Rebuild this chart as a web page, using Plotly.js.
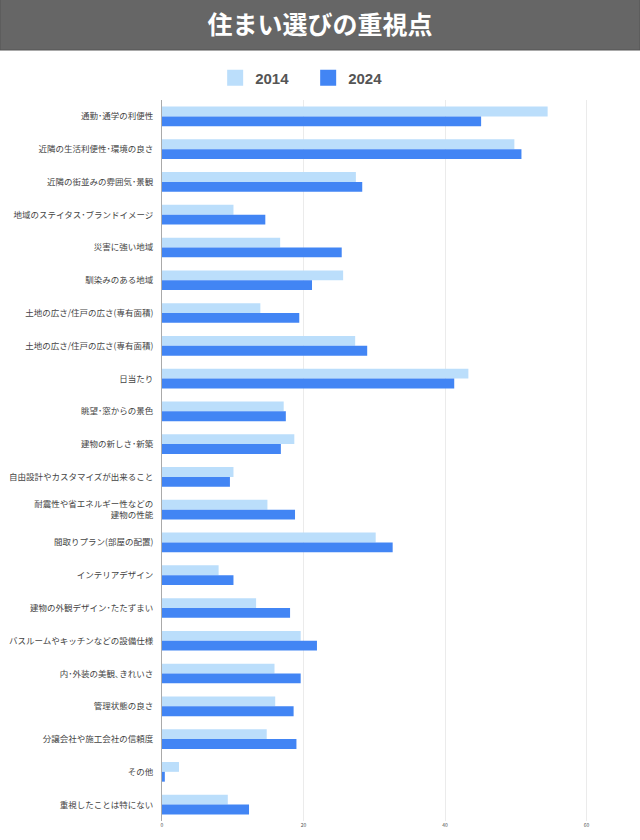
<!DOCTYPE html>
<html>
<head>
<meta charset="utf-8">
<script src="https://cdn.plot.ly/plotly-3.0.1.min.js"></script>
<style>html,body{margin:0;padding:0;background:#fff;}#chart{width:640px;height:840px;}</style>
</head>
<body>
<div id="chart"></div>
<script>
const categories = [
  "通勤･通学の利便性",
  "近隣の生活利便性･環境の良さ",
  "近隣の街並みの雰囲気･景観",
  "地域のステイタス･ブランドイメージ",
  "災害に強い地域",
  "馴染みのある地域",
  "土地の広さ/住戸の広さ(専有面積)",
  "土地の広さ/住戸の広さ(専有面積)",
  "日当たり",
  "眺望･窓からの景色",
  "建物の新しさ･新築",
  "自由設計やカスタマイズが出来ること",
  "耐震性や省エネルギー性などの<br>建物の性能",
  "間取りプラン(部屋の配置)",
  "インテリアデザイン",
  "建物の外観デザイン･たたずまい",
  "バスルームやキッチンなどの設備仕様",
  "内･外装の美観､きれいさ",
  "管理状態の良さ",
  "分譲会社や施工会社の信頼度",
  "その他",
  "重視したことは特にない"
];
const values2014 = [54.5, 49.8, 27.4, 10.1, 16.7, 25.6, 13.9, 27.3, 43.3, 17.2, 18.7, 10.1, 14.9, 30.2, 8.0, 13.3, 19.6, 15.9, 16.0, 14.8, 2.4, 9.3];
const values2024 = [45.1, 50.8, 28.3, 14.6, 25.4, 21.2, 19.4, 29.0, 41.3, 17.5, 16.8, 9.6, 18.8, 32.6, 10.1, 18.1, 21.9, 19.6, 18.6, 19.0, 0.4, 12.3];
const seriesNames = ["2014", "2024"];
const tickValuesX = [0, 20, 40, 60];
const titleText = "住まい選びの重視点";

const colors = ["#BBDEFB", "#4285F4"];
const positions = categories.map((c, i) => i);

const traces = [
  {type: "bar", orientation: "h", name: seriesNames[0], x: values2014, y: positions,
   marker: {color: colors[0]}, showlegend: false, hoverinfo: "x"},
  {type: "bar", orientation: "h", name: seriesNames[1], x: values2024, y: positions,
   marker: {color: colors[1]}, showlegend: false, hoverinfo: "x"},
  {type: "scatter", mode: "markers", name: seriesNames[0], x: [null], y: [null],
   marker: {symbol: "square", size: 18, color: colors[0]}, showlegend: true},
  {type: "scatter", mode: "markers", name: seriesNames[1], x: [null], y: [null],
   marker: {symbol: "square", size: 18, color: colors[1]}, showlegend: true}
];

const layout = {
  width: 640, height: 840,
  margin: {l: 162, r: 11, t: 100, b: 19, pad: 0},
  paper_bgcolor: "#ffffff", plot_bgcolor: "#ffffff",
  font: {family: "'Noto Sans CJK JP', 'Noto Sans', sans-serif", color: "#444"},
  barmode: "group", bargap: 0.4, bargroupgap: 0,
  title: {text: "<b>" + titleText + "</b>", x: 0.5, xref: "container", xanchor: "center",
          y: 1 - 25/840, yref: "container", yanchor: "middle",
          font: {size: 25, color: "#ffffff", family: "'Noto Sans CJK JP', sans-serif"}},
  shapes: [{type: "rect", xref: "paper", yref: "paper", layer: "below",
            x0: -162/467, x1: 1 + 11/467, y0: (821 - 50)/721, y1: (821 + 1)/721,
            fillcolor: "#666666", line: {color: "#555555", width: 1}}],
  legend: {orientation: "h", x: 0.313, xanchor: "center", y: (821 - 78)/721, yanchor: "middle",
           font: {size: 15, color: "#555", family: "'Liberation Sans', Arial, sans-serif", weight: "bold"},
           itemwidth: 30, entrywidth: 48, entrywidthmode: "pixels", bgcolor: "rgba(0,0,0,0)"},
  xaxis: {range: [0, 66], tickvals: tickValuesX, ticktext: tickValuesX.map(String),
          showgrid: true, gridcolor: "#ebebeb", gridwidth: 1, zeroline: false,
          showline: false, ticks: "", tickfont: {size: 5, color: "#555"}, fixedrange: true},
  yaxis: {range: [21.5, -0.5], tickvals: positions, ticktext: categories, showgrid: false,
          zeroline: false, showline: true, linecolor: "#aaaaaa", linewidth: 1,
          ticks: "", ticklabelstandoff: 6,
          tickfont: {size: 8.5, color: "#444"}, fixedrange: true}
};

Plotly.newPlot("chart", traces, layout, {displayModeBar: false, staticPlot: true});
</script>
</body>
</html>
